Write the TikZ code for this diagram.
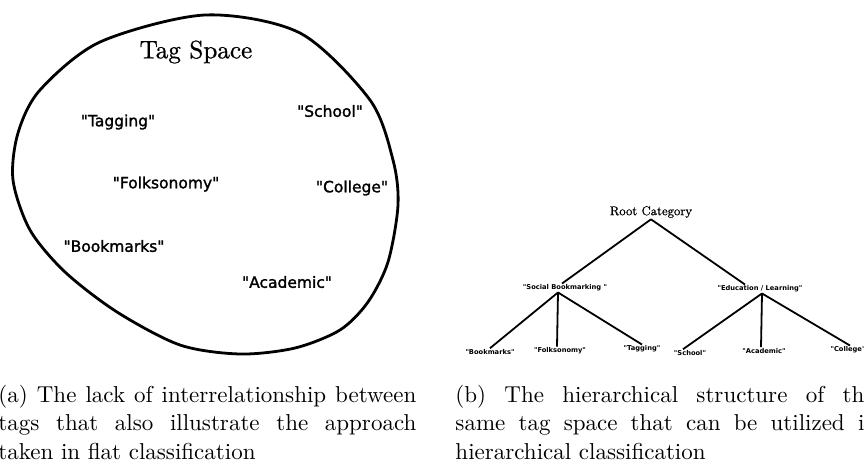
\documentclass[tikz,border=0pt]{standalone}
\usepackage{fontspec}
\newfontfamily\tagfont{DejaVu Sans}[FakeBold=1.6]
\newfontfamily\leaffont{DejaVu Sans Bold}
\newfontfamily\titlefont{Latin Modern Roman}[FakeBold=0.8]
\begin{document}
\begin{tikzpicture}[x=1pt,y=-1pt,
  tag/.style={font=\tagfont\fontsize{15.5}{18}\selectfont, inner sep=0pt},
  leaf/.style={font=\leaffont\fontsize{6.7}{8}\selectfont, inner sep=1pt},
  ttl/.style={font=\titlefont, inner sep=1pt},
  captxt/.style={scale=2.3, inner sep=0pt, anchor=base west},
  edge/.style={line width=1.8pt}]
\useasboundingbox (0,0) rectangle (864,472);
% (a) tag space
\draw[line width=2.8pt] plot[smooth cycle] coordinates {
  (205,15) (300,33) (370,100) (393,160) (398,205) (388,262) (368,302)
  (340,330) (295,348) (240,354) (180,345) (117,312) (65,272) (30,230)
  (13,180) (18,133) (40,90) (100,42)};
\node[ttl, scale=2.52] (ts) at (196,52) {Tag Space};
\node[tag] (ta) at (118,122) {"Tagging"};
\node[tag] (sa) at (330,111) {"School"};
\node[tag] (fa) at (166,184) {"Folksonomy"};
\node[tag] (ca) at (352,188) {"College"};
\node[tag] (ba) at (114,246) {"Bookmarks"};
\node[tag] (aa) at (287,282) {"Academic"};
% (b) hierarchy
\node[ttl, scale=1.27] (root) at (651,212) {Root Category};
\node[leaf] (sb) at (565,288) {"Social Bookmarking "};
\node[leaf] (el) at (760,289) {"Education / Learning"};
\node[leaf] (bm) at (490,352) {"Bookmarks"};
\node[leaf] (fo) at (560,351) {"Folksonomy"};
\node[leaf] (tg) at (642,349) {"Tagging"};
\node[leaf] (sc) at (690,353) {"School"};
\node[leaf] (ac) at (764,351) {"Academic"};
\node[leaf] (co) at (848,350) {"College"};
\draw[edge] (root.south) -- ([xshift=-3pt]sb.north);
\draw[edge] (root.south) -- ([xshift=-15pt]el.north);
\coordinate (sj) at ([xshift=-7pt]sb.south);
\coordinate (ej) at ([xshift=2pt]el.south);
\draw[edge] (sj) -- (bm.north);
\draw[edge] (sj) -- ([xshift=-3pt]fo.north);
\draw[edge] (sj) -- (tg.north);
\draw[edge] (ej) -- ([xshift=-7pt]sc.north);
\draw[edge] (ej) -- ([xshift=-3pt]ac.north);
\draw[edge] (ej) -- ([xshift=2pt]co.north);
% captions
\node[captxt] (ca1) at (-2,402) {\makebox[181.7pt][s]{(a) The lack of interrelationship between}};
\node[captxt] (ca2) at (-2,430) {\makebox[181.7pt][s]{tags that also illustrate the approach}};
\node[captxt] (ca3) at (-2,459) {taken in flat classification};
\node[captxt] (cb1) at (455,402) {\makebox[177.8pt][s]{(b) The hierarchical structure of th}};
\node[captxt] (cb2) at (455,430) {\makebox[177.8pt][s]{same tag space that can be utilized i}};
\node[captxt] (cb3) at (455,459) {hierarchical classification};
\end{tikzpicture}
\end{document}
